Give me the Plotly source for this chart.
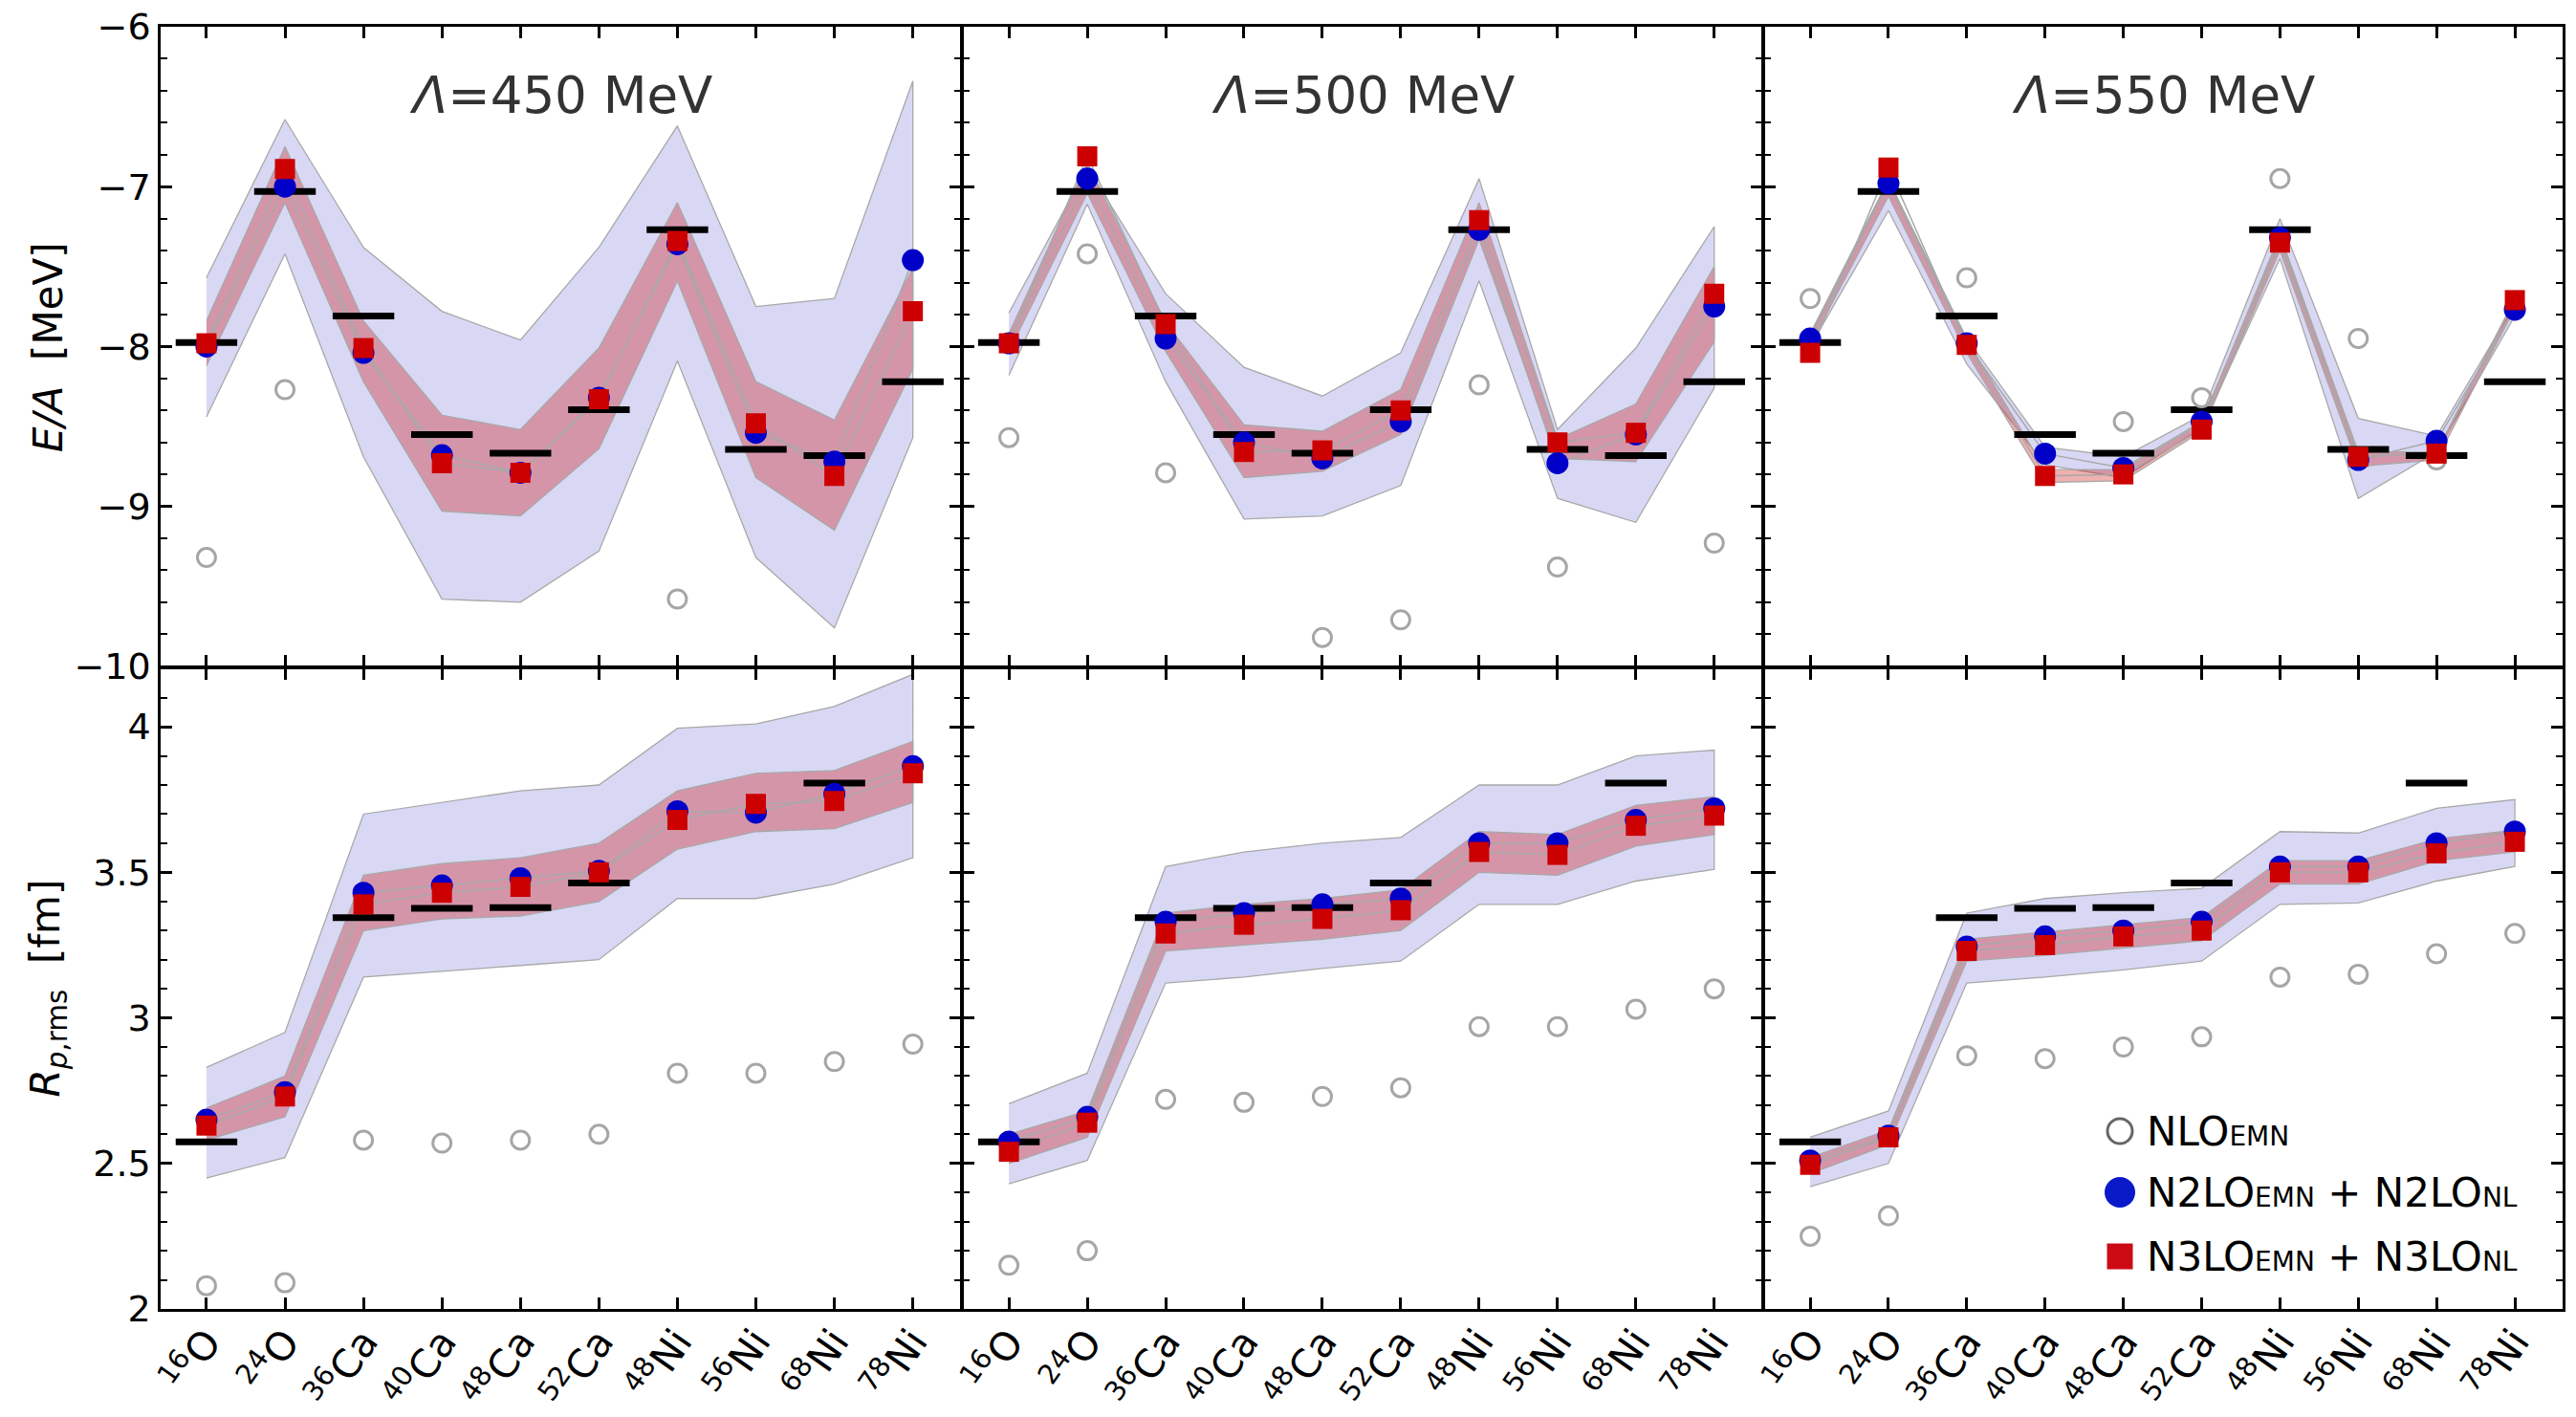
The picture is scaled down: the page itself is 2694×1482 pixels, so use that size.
import plotly.graph_objects as go

# ---------------------------------------------------------------- data
nuclei = ["16O", "24O", "36Ca", "40Ca", "48Ca", "52Ca", "48Ni", "56Ni", "68Ni", "78Ni"]
mass_numbers = ["16", "24", "36", "40", "48", "52", "48", "56", "68", "78"]
elements = ["O", "O", "Ca", "Ca", "Ca", "Ca", "Ni", "Ni", "Ni", "Ni"]
cutoffs = [450, 500, 550]

# experimental values (black bars)
exp_ea = [-7.976, -7.03, -7.81, -8.551, -8.667, -8.395, -7.27, -8.643, -8.682, -8.22]
exp_rp = [2.574, None, 3.344, 3.376, 3.379, 3.463, None, None, 3.807, None]

# E/A [MeV], Lambda = 450 MeV
ea_nlo_450 = [-9.32, -8.27, None, None, None, None, -9.58, None, None, None]
ea_n2lo_450 = [-8.00, -7.00, -8.04, -8.68, -8.79, -8.32, -7.36, -8.54, -8.72, -7.46]
ea_n3lo_450 = [-7.98, -6.89, -8.01, -8.73, -8.79, -8.33, -7.34, -8.48, -8.81, -7.78]
ea_n2lo_hi_450 = [-7.57, -6.58, -7.38, -7.78, -7.96, -7.38, -6.62, -7.75, -7.70, -6.34]
ea_n2lo_lo_450 = [-8.44, -7.42, -8.69, -9.58, -9.60, -9.28, -8.09, -9.32, -9.76, -8.57]
ea_n3lo_hi_450 = [-7.84, -6.75, -7.84, -8.43, -8.52, -8.01, -7.10, -8.22, -8.46, -7.51]
ea_n3lo_lo_450 = [-8.12, -7.10, -8.22, -9.03, -9.06, -8.64, -7.59, -8.82, -9.15, -8.14]

# E/A [MeV], Lambda = 500 MeV
ea_nlo_500 = [-8.57, -7.42, -8.79, None, -9.82, -9.71, -8.24, -9.38, None, -9.23]
ea_n2lo_500 = [-7.98, -6.95, -7.95, -8.60, -8.70, -8.47, -7.27, -8.73, -8.55, -7.75]
ea_n3lo_500 = [-7.98, -6.81, -7.86, -8.66, -8.65, -8.40, -7.21, -8.60, -8.54, -7.67]
ea_n2lo_hi_500 = [-7.79, -6.88, -7.67, -8.13, -8.31, -8.04, -6.95, -8.52, -8.01, -7.25]
ea_n2lo_lo_500 = [-8.18, -7.11, -8.22, -9.08, -9.06, -8.87, -7.59, -8.95, -9.10, -8.26]
ea_n3lo_hi_500 = [-7.92, -6.85, -7.85, -8.49, -8.53, -8.27, -7.10, -8.58, -8.36, -7.50]
ea_n3lo_lo_500 = [-8.03, -7.04, -8.03, -8.82, -8.78, -8.55, -7.33, -8.70, -8.72, -7.97]

# E/A [MeV], Lambda = 550 MeV
ea_nlo_550 = [-7.70, None, -7.57, None, -8.47, -8.32, -6.95, -7.95, -8.71, None]
ea_n2lo_550 = [-7.95, -6.98, -7.98, -8.67, -8.76, -8.47, -7.32, -8.71, -8.59, -7.77]
ea_n3lo_550 = [-8.04, -6.88, -7.99, -8.81, -8.80, -8.52, -7.35, -8.69, -8.67, -7.71]
ea_n2lo_hi_550 = [-7.92, -6.96, -7.95, -8.63, -8.69, -8.43, -7.20, -8.45, -8.56, -7.74]
ea_n2lo_lo_550 = [-8.00, -7.15, -8.11, -8.74, -8.82, -8.51, -7.45, -8.95, -8.66, -7.81]
ea_n3lo_hi_550 = [-7.93, -6.96, -7.96, -8.77, -8.77, -8.48, -7.30, -8.66, -8.66, -7.70]
ea_n3lo_lo_550 = [-7.99, -7.06, -8.04, -8.85, -8.84, -8.53, -7.40, -8.75, -8.71, -7.76]

# R_p,rms [fm], Lambda = 450 MeV
rp_nlo_450 = [2.08, 2.09, 2.58, 2.57, 2.58, 2.60, 2.81, 2.81, 2.85, 2.91]
rp_n2lo_450 = [2.65, 2.745, 3.43, 3.455, 3.48, 3.505, 3.71, 3.705, 3.77, 3.865]
rp_n3lo_450 = [2.63, 2.73, 3.39, 3.43, 3.45, 3.50, 3.68, 3.735, 3.745, 3.84]
rp_n2lo_hi_450 = [2.83, 2.95, 3.70, 3.74, 3.78, 3.80, 3.995, 4.01, 4.07, 4.18]
rp_n2lo_lo_450 = [2.45, 2.52, 3.14, 3.16, 3.18, 3.20, 3.41, 3.41, 3.46, 3.55]
rp_n3lo_hi_450 = [2.69, 2.80, 3.49, 3.53, 3.55, 3.60, 3.78, 3.84, 3.85, 3.95]
rp_n3lo_lo_450 = [2.58, 2.66, 3.30, 3.34, 3.35, 3.40, 3.58, 3.64, 3.65, 3.74]

# R_p,rms [fm], Lambda = 500 MeV
rp_nlo_500 = [2.15, 2.20, 2.72, 2.71, 2.73, 2.76, 2.97, 2.97, 3.03, 3.10]
rp_n2lo_500 = [2.575, 2.66, 3.33, 3.36, 3.39, 3.41, 3.60, 3.60, 3.68, 3.72]
rp_n3lo_500 = [2.54, 2.64, 3.29, 3.32, 3.34, 3.37, 3.57, 3.56, 3.66, 3.695]
rp_n2lo_hi_500 = [2.705, 2.81, 3.52, 3.57, 3.60, 3.62, 3.80, 3.80, 3.90, 3.92]
rp_n2lo_lo_500 = [2.43, 2.51, 3.12, 3.14, 3.17, 3.195, 3.39, 3.39, 3.47, 3.51]
rp_n3lo_hi_500 = [2.60, 2.68, 3.36, 3.39, 3.41, 3.44, 3.64, 3.63, 3.73, 3.76]
rp_n3lo_lo_500 = [2.50, 2.59, 3.23, 3.25, 3.27, 3.30, 3.50, 3.49, 3.59, 3.63]

# R_p,rms [fm], Lambda = 550 MeV
rp_nlo_550 = [2.25, 2.32, 2.87, 2.86, 2.90, 2.935, 3.14, 3.15, 3.22, 3.29]
rp_n2lo_550 = [2.51, 2.595, 3.245, 3.28, 3.30, 3.33, 3.52, 3.52, 3.60, 3.64]
rp_n3lo_550 = [2.495, 2.59, 3.23, 3.25, 3.28, 3.30, 3.50, 3.50, 3.565, 3.605]
rp_n2lo_hi_550 = [2.59, 2.68, 3.36, 3.41, 3.43, 3.445, 3.64, 3.635, 3.72, 3.75]
rp_n2lo_lo_550 = [2.42, 2.50, 3.12, 3.14, 3.165, 3.195, 3.39, 3.395, 3.47, 3.52]
rp_n3lo_hi_550 = [2.52, 2.615, 3.27, 3.295, 3.32, 3.345, 3.54, 3.54, 3.615, 3.645]
rp_n3lo_lo_550 = [2.465, 2.565, 3.195, 3.215, 3.24, 3.265, 3.46, 3.46, 3.54, 3.57]

legend_labels = [
    "NLO<span style='font-size:28px'>EMN</span>",
    "N2LO<span style='font-size:28px'>EMN</span> + N2LO<span style='font-size:28px'>NL</span>",
    "N3LO<span style='font-size:28px'>EMN</span> + N3LO<span style='font-size:28px'>NL</span>",
]

# ---------------------------------------------------------------- style
FONT = "DejaVu Sans"
W, H = 2694, 1482
BLUE = "#0000c8"
RED = "#cc0000"
GREY_RING = "#a6a6a6"
BAND_BLUE = "rgb(216,216,245)"
BAND_RED = "rgba(205,0,0,0.31)"
EDGE = "#a8a8a8"
LW = 2.5  # frame line width

# panel edges in pixels; neighbouring frames share one line
col_px = [(168, 1006 - LW / 2), (1006 + LW / 2, 1844 - LW / 2), (1844 + LW / 2, 2680)]
row_px = [(28, 698 - LW / 2), (698 + LW / 2, 1369)]

idx = list(range(len(nuclei)))
ticktext = [f"<sup>{a}</sup>{e}" for a, e in zip(mass_numbers, elements)]

panels_ea = [
    (exp_ea, ea_nlo_450, ea_n2lo_450, ea_n3lo_450, ea_n2lo_hi_450, ea_n2lo_lo_450, ea_n3lo_hi_450, ea_n3lo_lo_450),
    (exp_ea, ea_nlo_500, ea_n2lo_500, ea_n3lo_500, ea_n2lo_hi_500, ea_n2lo_lo_500, ea_n3lo_hi_500, ea_n3lo_lo_500),
    (exp_ea, ea_nlo_550, ea_n2lo_550, ea_n3lo_550, ea_n2lo_hi_550, ea_n2lo_lo_550, ea_n3lo_hi_550, ea_n3lo_lo_550),
]
panels_rp = [
    (exp_rp, rp_nlo_450, rp_n2lo_450, rp_n3lo_450, rp_n2lo_hi_450, rp_n2lo_lo_450, rp_n3lo_hi_450, rp_n3lo_lo_450),
    (exp_rp, rp_nlo_500, rp_n2lo_500, rp_n3lo_500, rp_n2lo_hi_500, rp_n2lo_lo_500, rp_n3lo_hi_500, rp_n3lo_lo_500),
    (exp_rp, rp_nlo_550, rp_n2lo_550, rp_n3lo_550, rp_n2lo_hi_550, rp_n2lo_lo_550, rp_n3lo_hi_550, rp_n3lo_lo_550),
]

fig = go.Figure()


def px_x(p):
    return p / W


def px_y(p):
    return 1 - p / H


def add_panel(k, data):
    exp, nlo, n2, n3, n2hi, n2lo, n3hi, n3lo = data
    xa, ya = f"x{k}", f"y{k}"
    poly_x = idx + idx[::-1]
    # N2LO uncertainty band
    fig.add_trace(go.Scatter(x=poly_x, y=n2hi + n2lo[::-1], fill="toself",
                             fillcolor=BAND_BLUE, mode="lines",
                             line=dict(color=EDGE, width=1.3),
                             xaxis=xa, yaxis=ya, hoverinfo="skip"))
    # N3LO uncertainty band
    fig.add_trace(go.Scatter(x=poly_x, y=n3hi + n3lo[::-1], fill="toself",
                             fillcolor=BAND_RED, mode="lines",
                             line=dict(color=EDGE, width=1.3),
                             xaxis=xa, yaxis=ya, hoverinfo="skip"))
    # central lines
    for vals in (n2, n3):
        fig.add_trace(go.Scatter(x=idx, y=vals, mode="lines",
                                 line=dict(color=EDGE, width=1.5),
                                 xaxis=xa, yaxis=ya, hoverinfo="skip"))
    # experiment
    fig.add_trace(go.Scatter(x=idx, y=exp, mode="markers",
                             marker=dict(symbol="line-ew", size=46, color="black",
                                         line=dict(color="black", width=7)),
                             xaxis=xa, yaxis=ya))
    # NLO
    fig.add_trace(go.Scatter(x=idx, y=nlo, mode="markers",
                             marker=dict(symbol="circle-open", size=19, color=GREY_RING,
                                         line=dict(color=GREY_RING, width=3)),
                             xaxis=xa, yaxis=ya))
    # N2LO
    fig.add_trace(go.Scatter(x=idx, y=n2, mode="markers",
                             marker=dict(symbol="circle", size=23, color=BLUE,
                                         line=dict(width=0)),
                             xaxis=xa, yaxis=ya))
    # N3LO
    fig.add_trace(go.Scatter(x=idx, y=n3, mode="markers",
                             marker=dict(symbol="square", size=21, color=RED,
                                         line=dict(width=0)),
                             xaxis=xa, yaxis=ya))


layout = dict(
    width=W, height=H, margin=dict(l=0, r=0, t=0, b=0, autoexpand=False),
    paper_bgcolor="white", plot_bgcolor="white", showlegend=False,
    font=dict(family=FONT, color="black", size=38),
)

axis_common = dict(showline=True, linewidth=LW, linecolor="black",
                   mirror="allticks", ticks="inside", ticklen=12,
                   tickwidth=2.5, tickcolor="black", showgrid=False,
                   zeroline=False, automargin=False,
                   tickfont=dict(family=FONT, size=38, color="black"))

annotations = []
for r in range(2):
    for c in range(3):
        k = r * 3 + c + 1
        add_panel(k, panels_ea[c] if r == 0 else panels_rp[c])
        x0, x1 = col_px[c]
        y0, y1 = row_px[r]
        xaxis = dict(axis_common, domain=[px_x(x0), px_x(x1)], anchor=f"y{k}",
                     range=[-0.584, 9.61], tickmode="array", tickvals=idx,
                     ticktext=ticktext, showticklabels=(r == 1), tickangle=-55,
                     ticklabelstandoff=-9,
                     tickfont=dict(family=FONT, size=41, color="black"))
        if r == 0:
            yaxis = dict(axis_common, domain=[px_y(y1), px_y(y0)], anchor=f"x{k}",
                         range=[-10, -6], tickmode="array",
                         tickvals=[-10, -9, -8, -7, -6],
                         minor=dict(dtick=0.2, tick0=-10, ticks="inside", ticklen=7,
                                    tickwidth=2, tickcolor="black"),
                         showticklabels=(c == 0))
        else:
            yaxis = dict(axis_common, domain=[px_y(y1), px_y(y0)], anchor=f"x{k}",
                         range=[2, 4.2], tickmode="array",
                         tickvals=[2, 2.5, 3, 3.5, 4],
                         ticktext=["2", "2.5", "3", "3.5", "4"],
                         minor=dict(dtick=0.1, tick0=2, ticks="inside", ticklen=7,
                                    tickwidth=2, tickcolor="black"),
                         showticklabels=(c == 0))
        layout[f"xaxis{k}"] = xaxis
        layout[f"yaxis{k}"] = yaxis

# cutoff labels
for c, lam in enumerate(cutoffs):
    x0, x1 = col_px[c]
    annotations.append(dict(text=f"<i>Λ</i>={lam} MeV", xref="paper", yref="paper",
                            x=px_x((x0 + x1) / 2), y=px_y(99), xanchor="center",
                            yanchor="middle", showarrow=False,
                            font=dict(family=FONT, size=53, color="#333333")))

# axis titles
annotations.append(dict(text="<i>E/A</i>\u00a0\u00a0[MeV]", xref="paper", yref="paper",
                        x=px_x(50), y=px_y((28 + 698) / 2), textangle=-90,
                        xanchor="center", yanchor="middle", showarrow=False,
                        font=dict(family=FONT, size=42, color="black")))
annotations.append(dict(text="<i>R</i><sub><i>p</i>,rms</sub>\u00a0\u00a0[fm]", xref="paper",
                        yref="paper", x=px_x(50), y=px_y((698 + 1369) / 2),
                        textangle=-90, xanchor="center", yanchor="middle",
                        showarrow=False, font=dict(family=FONT, size=42, color="black")))

# legend (bottom-right panel)
shapes = []
leg_sym_x = 2217
leg_text_x = 2243
leg_rows = [1183, 1247, 1314]
for i, (label, row_y) in enumerate(zip(legend_labels, leg_rows)):
    annotations.append(dict(text=label, xref="paper", yref="paper",
                            x=px_x(leg_text_x), y=px_y(row_y), xanchor="left",
                            yanchor="middle", align="left", width=420,
                            showarrow=False,
                            font=dict(family=FONT, size=42, color="black")))
    if i == 0:
        rr = 13
        shapes.append(dict(type="circle", xref="paper", yref="paper",
                           x0=px_x(leg_sym_x - rr), x1=px_x(leg_sym_x + rr),
                           y0=px_y(row_y + rr), y1=px_y(row_y - rr),
                           line=dict(color="#666666", width=3), fillcolor="white"))
    elif i == 1:
        rr = 16
        shapes.append(dict(type="circle", xref="paper", yref="paper",
                           x0=px_x(leg_sym_x - rr), x1=px_x(leg_sym_x + rr),
                           y0=px_y(row_y + rr), y1=px_y(row_y - rr),
                           line=dict(color="#0a1ac8", width=0), fillcolor="#0a1ac8"))
    else:
        rr = 13.5
        shapes.append(dict(type="rect", xref="paper", yref="paper",
                           x0=px_x(leg_sym_x - rr), x1=px_x(leg_sym_x + rr),
                           y0=px_y(row_y + rr), y1=px_y(row_y - rr),
                           line=dict(width=0), fillcolor="#cc0a14"))

layout["annotations"] = annotations
layout["shapes"] = shapes
fig.update_layout(**layout)

fig.write_html("out.html")
